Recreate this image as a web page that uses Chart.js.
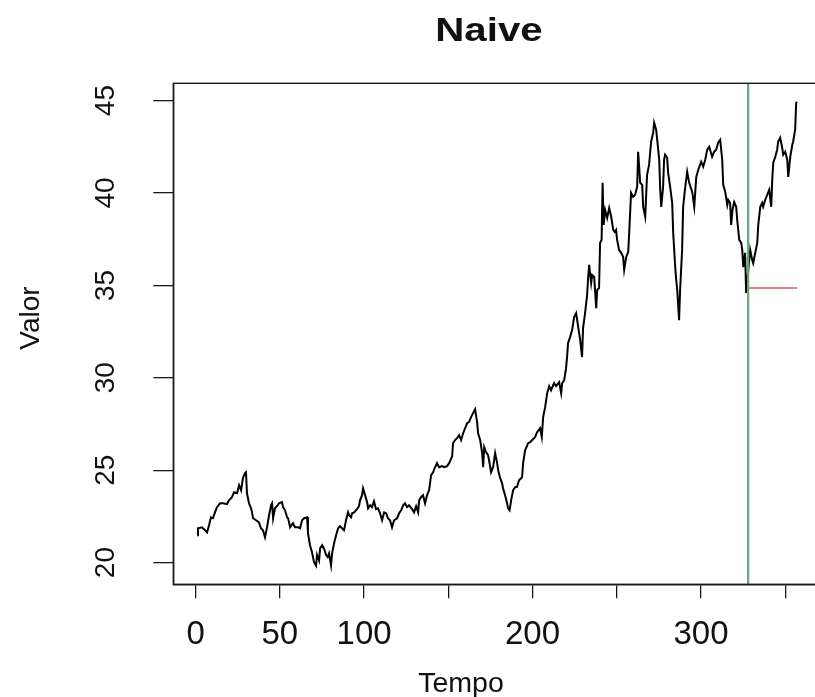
<!DOCTYPE html>
<html>
<head>
<meta charset="utf-8">
<script src="https://cdn.jsdelivr.net/npm/chart.js@4.4.1/dist/chart.umd.min.js"></script>
<style>
  html, body { margin: 0; padding: 0; background: #fff; overflow: hidden; }
  #wrap { position: relative; width: 830px; height: 697px; }
</style>
</head>
<body>
<div id="wrap"><canvas id="grafico" width="830" height="697"></canvas></div>
<script>
// Série observada (tempo, valor)
const tempo = [
  1.0, 1.4, 3.8, 5.6, 6.8, 8.0, 9.1, 10.3, 11.5, 12.7, 14.5, 16.3, 18.6, 19.8, 21.6, 22.8,
  24.6, 25.8, 27.0, 28.1, 29.3, 29.9, 30.5, 31.7, 32.9, 33.5, 34.1, 35.9, 37.6, 38.8, 40.0, 41.2,
  42.4, 43.6, 44.8, 45.4, 46.0, 47.1, 48.3, 49.5, 51.3, 51.9, 53.1, 54.3, 54.9, 56.1, 57.8, 59.0,
  60.8, 62.0, 63.2, 64.4, 66.2, 66.7, 67.9, 69.1, 69.7, 70.3, 71.5, 72.1, 73.3, 73.9, 75.1, 76.2,
  77.4, 78.4, 79.2, 80.4, 81.0, 82.2, 83.4, 84.6, 85.7, 86.9, 88.1, 89.3, 90.5, 91.1, 92.3, 92.9,
  94.1, 95.8, 97.0, 97.6, 98.8, 99.4, 100.6, 101.8, 102.4, 103.6, 104.7, 105.9, 107.1, 108.3, 109.5, 110.7,
  111.9, 113.1, 114.2, 115.4, 116.6, 117.8, 119.6, 120.8, 122.0,
  123.2, 124.3, 125.5, 126.7, 128.5, 129.7, 130.9, 132.1, 132.7, 133.8, 135.0, 136.2, 137.4, 138.6, 139.8, 141.0,
  141.6, 143.3, 144.5, 146.3, 147.5, 149.3, 150.5, 152.3, 152.8, 154.0, 155.2, 156.4, 157.6, 158.8, 160.0, 161.2,
  162.3, 163.5, 164.7, 165.9, 167.1, 167.7, 168.9, 170.1, 170.7, 171.3, 172.4, 173.6, 174.2, 175.4, 176.6, 177.8,
  179.0, 179.6, 180.8, 181.9, 182.5,
  183.7, 184.9, 185.5, 186.4, 187.3, 188.5, 189.7, 190.8, 192.0, 193.8, 194.4, 195.6, 197.4, 198.6, 199.8, 201.5,
  202.7, 204.5, 205.5, 206.3, 207.5, 208.7, 209.9, 211.0, 212.8, 214.0, 215.8, 217.0, 217.6, 218.8, 219.9, 220.5,
  221.1, 222.3, 223.5, 224.7, 225.9, 227.1, 228.3, 229.4, 230.0, 231.2, 232.4, 233.0, 233.6, 234.8, 235.4, 236.6,
  237.8, 238.4, 239.5, 240.1, 241.0, 241.6, 242.2, 243.1, 244.3, 245.5, 246.7, 247.9, 248.8, 249.6, 250.2, 251.4,
  252.6, 253.8, 254.4, 255.6, 256.8, 257.4, 258.5, 259.7, 260.9, 262.1, 262.7, 263.3, 263.9, 265.1, 265.7, 266.9,
  267.4, 268.0, 269.2, 270.4, 271.6, 272.2, 273.4, 274.0, 275.2, 275.8, 276.4, 277.5, 278.1, 278.7, 279.9, 280.5,
  281.7, 282.9, 283.5, 284.7, 285.3, 285.9, 287.0, 287.6, 288.8, 289.4,
  290.6, 291.8, 293.0, 294.8, 296.0, 297.2, 298.4, 300.1, 301.3, 302.5, 303.7, 304.9, 306.6, 307.8, 309.0, 310.2,
  311.4, 312.6, 313.2, 314.4, 315.6, 316.2, 317.3, 317.9, 318.7, 319.7, 320.9, 321.5, 322.7, 323.9, 324.5, 325.1,
  326.2, 326.8, 328.2, 329.2, 330.4, 331.0, 332.2, 333.4, 334.0, 335.2, 336.3, 336.9, 338.1, 339.3, 340.5, 341.7,
  342.3, 342.9, 344.1, 345.2, 345.8, 347.0, 348.2, 348.8, 350.0, 351.2, 351.8, 353.0, 354.2, 354.7, 355.9, 356.5,
  357.0
];
const valor = [
  21.48, 21.86, 21.91, 21.75, 21.64, 22.02, 22.45, 22.40, 22.72, 23.00, 23.21, 23.21, 23.16, 23.37, 23.54, 23.81,
  23.75, 24.19, 23.92, 24.57, 24.84, 24.89, 23.75, 23.21, 22.94, 22.72, 22.40, 22.29, 22.18, 21.86, 21.75, 21.37,
  21.91, 22.56, 23.10, 23.21, 22.40, 22.94, 23.05, 23.21, 23.27, 23.00, 22.83, 22.45, 22.40, 21.91, 22.13, 21.91,
  21.91, 21.86, 22.29, 22.40, 22.45, 21.59, 20.94, 20.56, 20.29, 20.02, 19.83, 20.42, 20.12, 20.77, 20.94, 20.77,
  20.42, 20.30, 20.50, 19.85, 20.50, 21.05, 21.48, 21.86, 21.97, 21.86, 21.75, 22.29, 22.72, 22.56, 22.45, 22.67,
  22.72, 22.89, 23.05, 23.37, 23.65, 24.02, 23.65, 23.27, 22.94, 23.10, 23.00, 23.32, 22.89, 22.94, 22.67, 22.29,
  22.72, 22.67, 22.40, 22.29, 21.91, 22.29, 22.40, 22.67, 22.83,
  23.10, 23.21, 23.00, 23.10, 22.89, 22.72, 23.05, 22.72, 23.37, 23.54, 23.65, 23.21, 23.65, 23.92, 24.73, 24.89,
  25.05, 25.38, 25.16, 25.22, 25.16, 25.22, 25.38, 25.76, 26.46, 26.63, 26.73, 26.90, 26.63, 27.00, 27.28, 27.55,
  27.60, 27.87, 28.09, 28.30, 27.60, 27.00, 26.63, 25.92, 25.16, 26.25, 25.98, 25.81, 25.54, 24.89, 25.16, 25.92,
  25.38, 25.00, 24.57, 24.30, 24.02,
  23.65, 23.21, 22.94, 22.83, 23.37, 23.92, 24.08, 24.10, 24.46, 24.62, 25.38, 26.08, 26.46, 26.52, 26.63, 26.79,
  27.06, 27.28, 26.79, 27.87, 28.41, 29.17, 29.55, 29.33, 29.71, 29.55, 29.76, 29.17, 29.71, 29.87, 30.52, 31.12,
  31.88, 32.20, 32.58, 33.29, 33.50, 32.75, 32.04, 31.12, 32.69, 33.50, 34.48, 35.40, 36.11, 35.13, 35.56, 35.45,
  33.77, 34.75, 34.86, 37.30, 37.46, 40.55, 38.27, 39.08, 38.65, 39.19, 38.71, 38.00, 37.89, 38.00, 37.46, 36.92,
  36.76, 36.54, 35.84, 36.54, 36.81, 37.89, 40.01, 39.79, 39.90, 40.33, 42.23, 41.41, 40.55, 40.44, 39.25, 38.71,
  39.79, 40.98, 41.53, 42.77, 43.26, 43.80, 43.42, 42.89, 41.80, 40.17, 39.25, 40.33, 41.80, 42.07, 41.91, 41.09,
  40.33, 39.46, 37.84, 35.99, 35.29, 34.75, 33.12, 34.75, 36.92, 39.25,
  40.28, 41.15, 40.55, 40.06, 39.25, 40.87, 41.26, 41.69, 41.42, 41.80, 42.34, 42.50, 41.96, 42.23, 42.34, 42.72,
  42.88, 41.80, 40.44, 40.06, 39.35, 39.62, 39.46, 38.27, 39.08, 39.51, 39.25, 38.54, 37.46, 37.30, 36.92, 35.99,
  36.76, 34.59, 35.94, 36.92, 36.37, 36.20, 36.76, 37.30, 38.27, 39.25, 39.46, 39.25, 39.62, 39.90, 40.17, 39.25,
  40.72, 41.64, 41.96, 42.34, 42.77, 42.99, 42.45, 42.07, 42.23, 41.80, 40.87, 41.96, 42.61, 42.77, 43.42, 44.88,
  44.93
];

// Previsão ingênua: último valor do treino repetido até o fim da série
const fimTreino = 328;
const previsaoTempo = [328, 357];
const previsaoValor = 34.86;

// Eixos
const xTicks = [0, 50, 100, 150, 200, 250, 300, 350];
const xTickLabels = ['0', '50', '100', '', '200', '', '300', ''];
const yTicks = [20, 25, 30, 35, 40, 45];

const titulo = 'Naive';
const rotuloX = 'Tempo';
const rotuloY = 'Valor';

// Limites no estilo do R: faixa dos dados com 4% de folga de cada lado
const nObs = 357;
const xMin = 1 - 0.04 * (nObs - 1);
const xMax = nObs + 0.04 * (nObs - 1);
const vMin = Math.min(...valor), vMax = Math.max(...valor);
const yMin = vMin - 0.04 * (vMax - vMin);
const yMax = vMax + 0.04 * (vMax - vMin);

const FONTE = '"Liberation Sans", Arial, Helvetica, sans-serif';

const caixa = {
  id: 'caixa',
  afterDraw(chart) {
    const { ctx, chartArea: a } = chart;
    ctx.save();
    ctx.strokeStyle = '#1a1a1a';
    ctx.lineWidth = 1.4;
    ctx.strokeRect(a.left, a.top, a.right - a.left, a.bottom - a.top);
    ctx.restore();
  }
};

// Texto centrado com leve alargamento horizontal
function texto(ctx, s, x, y, ang, sx) {
  ctx.save();
  ctx.translate(x, y);
  if (ang) ctx.rotate(ang);
  ctx.scale(sx || 1, 1);
  ctx.fillText(s, 0, 0);
  ctx.restore();
}

const textos = {
  id: 'textos',
  afterDraw(chart) {
    const { ctx, scales: { y } } = chart;
    ctx.save();
    ctx.fillStyle = '#111';
    ctx.textAlign = 'center';
    ctx.textBaseline = 'middle';

    ctx.font = 'bold 33px ' + FONTE;
    texto(ctx, titulo, 489, 32, 0, 1.22);

    ctx.font = '28px ' + FONTE;
    texto(ctx, rotuloX, 461, 684, 0, 1.02);
    texto(ctx, rotuloY, 31, 318, -Math.PI / 2, 1);

    ctx.font = '28px ' + FONTE;
    yTicks.forEach((v) => {
      texto(ctx, String(v), 106, y.getPixelForValue(v), -Math.PI / 2, 1);
    });
    ctx.restore();
  }
};

new Chart(document.getElementById('grafico'), {
  type: 'scatter',
  data: {
    datasets: [
      {
        label: 'Corte',
        data: [{ x: fimTreino, y: yMin }, { x: fimTreino, y: yMax }],
        showLine: true, borderColor: '#5fa87f', borderWidth: 2.2, pointRadius: 0, order: 0
      },
      {
        label: 'Naive',
        data: previsaoTempo.map((t) => ({ x: t, y: previsaoValor })),
        showLine: true, borderColor: '#d4585f', borderWidth: 1.4, pointRadius: 0, order: 1
      },
      {
        label: 'Valor',
        data: tempo.map((t, i) => ({ x: t, y: valor[i] })),
        showLine: true, borderColor: '#000', borderWidth: 2, pointRadius: 0,
        tension: 0, order: 2
      }
    ]
  },
  options: {
    responsive: false,
    animation: false,
    devicePixelRatio: 1,
    layout: { padding: { left: 0, right: 9, top: 83.3, bottom: 0 } },
    plugins: { legend: { display: false }, tooltip: { enabled: false }, title: { display: false } },
    scales: {
      x: {
        type: 'linear', min: xMin, max: xMax,
        afterBuildTicks: (s) => { s.ticks = xTicks.map((v) => ({ value: v })); },
        afterFit: (s) => { s.height = 697 - 584.3; },
        ticks: {
          autoSkip: false, maxRotation: 0, minRotation: 0, padding: 17, color: '#111',
          font: { family: FONTE, size: 33 },
          callback: (v) => { const i = xTicks.indexOf(v); return i >= 0 ? xTickLabels[i] : ''; }
        },
        grid: { drawOnChartArea: false, drawTicks: true, tickLength: 14, color: '#1a1a1a', lineWidth: 1.3 },
        border: { display: true, color: '#1a1a1a', width: 1.4 }
      },
      y: {
        type: 'linear', min: yMin, max: yMax,
        afterBuildTicks: (s) => { s.ticks = yTicks.map((v) => ({ value: v })); },
        afterFit: (s) => { s.width = 173.3; },
        ticks: { display: false },
        grid: { drawOnChartArea: false, drawTicks: true, tickLength: 20, color: '#1a1a1a', lineWidth: 1.3 },
        border: { display: true, color: '#1a1a1a', width: 1.4 }
      }
    }
  },
  plugins: [caixa, textos]
});
</script>
</body>
</html>
